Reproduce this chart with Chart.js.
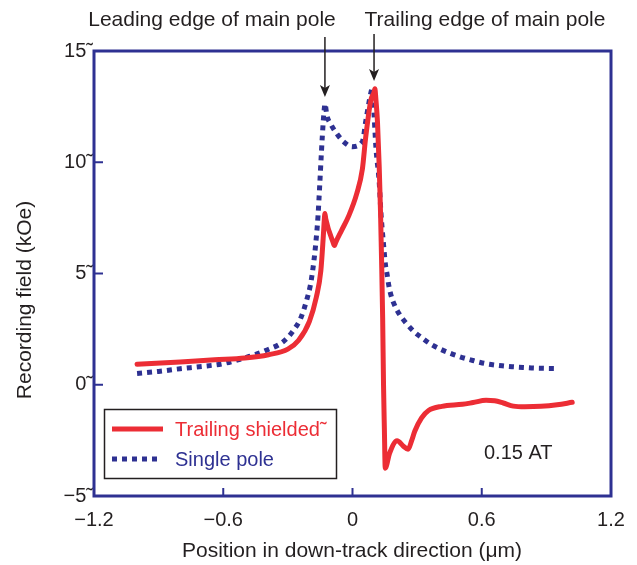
<!DOCTYPE html>
<html><head><meta charset="utf-8">
<script src="https://cdn.jsdelivr.net/npm/chart.js@4"></script>
<style>html,body{margin:0;padding:0;background:#fff}</style>
</head><body>
<canvas id="c" width="637" height="565"></canvas>
<script>
const seriesNames = ['Trailing shielded\u02DC', 'Single pole'];
const xRed = [-1.0,-0.8,-0.64,-0.5,-0.39,-0.3,-0.25,-0.2,-0.168,-0.147,-0.136,-0.131,-0.128,-0.124,-0.09,-0.084,-0.078,-0.05,-0.017,0.02,0.046,0.061,0.085,0.1,0.104,0.108,0.116,0.124,0.13,0.135,0.14,0.144,0.148,0.152,0.172,0.207,0.235,0.258,0.275,0.289,0.32,0.353,0.415,0.51,0.56,0.62,0.66,0.70,0.747,0.8,0.875,0.95,1.02];
const yRed = [0.92,1.02,1.12,1.2,1.35,1.6,2.0,2.85,3.93,5.12,6.6,7.4,7.7,7.45,6.4,6.26,6.4,6.95,7.6,8.6,9.7,11.1,12.78,13.15,13.3,12.9,11.8,9.8,7.8,5.6,3.0,0.0,-2.0,-3.75,-3.08,-2.52,-2.75,-2.9,-2.5,-2.09,-1.5,-1.16,-0.97,-0.88,-0.8,-0.7,-0.72,-0.82,-0.96,-0.99,-0.97,-0.9,-0.79];
const xBlue = [-1.0,-0.9,-0.8,-0.7,-0.6,-0.48,-0.4,-0.32,-0.27,-0.24,-0.21,-0.195,-0.184,-0.172,-0.16,-0.152,-0.144,-0.136,-0.131,-0.128,-0.124,-0.12,-0.1,-0.07,-0.042,-0.001,0.046,0.062,0.081,0.087,0.09,0.094,0.1,0.109,0.124,0.132,0.145,0.153,0.161,0.168,0.179,0.196,0.219,0.249,0.284,0.323,0.362,0.408,0.455,0.498,0.548,0.594,0.644,0.695,0.741,0.792,0.842,0.95];
const yBlue = [0.51,0.6,0.72,0.82,0.95,1.27,1.55,1.95,2.5,3.0,3.9,4.5,5.2,6.2,7.6,9.0,10.5,11.8,12.4,12.63,12.45,12.16,11.7,11.25,10.93,10.7,10.93,11.87,12.93,13.2,13.3,13.1,12.16,10.63,9.1,7.73,6.2,5.39,4.94,4.49,4.01,3.56,3.15,2.77,2.4,2.1,1.83,1.6,1.41,1.26,1.12,1.0,0.91,0.85,0.81,0.78,0.75,0.73];
const xTickValues = [-1.2,-0.6,0,0.6,1.2];
const xTickLabels = ['\u22121.2','\u22120.6','0','0.6','1.2'];
const yTickValues = [-5,0,5,10,15];
const yTickLabels = ['\u22125\u02DC','0\u02DC','5\u02DC','10\u02DC','15\u02DC'];
const xTitle = 'Position in down-track direction (\u03BCm)';
const yTitle = 'Recording field (kOe)';
const noteLabels = ['Leading edge of main pole','Trailing edge of main pole'];
const notePeakX = [-0.128, 0.1];
const condition = '0.15 AT';

const RED = '#ec2d35', NAVY = '#2e3192', INK = '#231f20';
const FONT = '"Liberation Sans", Arial, Helvetica, sans-serif';

const deco = {
  id: 'deco',
  afterDatasetsDraw(chart) {
    const {ctx, chartArea: a, scales: {x, y}} = chart;
    ctx.save();
    // inner tick marks
    ctx.strokeStyle = NAVY; ctx.lineWidth = 2;
    yTickValues.slice(1, -1).forEach(v => {
      const py = y.getPixelForValue(v);
      ctx.beginPath(); ctx.moveTo(a.left, py); ctx.lineTo(a.left + 9, py); ctx.stroke();
    });
    xTickValues.slice(1, -1).forEach(v => {
      const px = x.getPixelForValue(v);
      ctx.beginPath(); ctx.moveTo(px, a.bottom); ctx.lineTo(px, a.bottom - 8); ctx.stroke();
    });
    // frame
    ctx.lineWidth = 3;
    ctx.strokeRect(a.left, a.top, a.right - a.left, a.bottom - a.top);

    // legend
    ctx.strokeStyle = INK; ctx.lineWidth = 1.5;
    ctx.strokeRect(104.5, 409.5, 232, 69);
    ctx.lineWidth = 5;
    ctx.strokeStyle = RED; ctx.setLineDash([]);
    ctx.beginPath(); ctx.moveTo(112, 429); ctx.lineTo(163, 429); ctx.stroke();
    ctx.strokeStyle = NAVY; ctx.setLineDash([5, 5]);
    ctx.beginPath(); ctx.moveTo(112, 459); ctx.lineTo(162, 459); ctx.stroke();
    ctx.setLineDash([]);
    ctx.font = '20px ' + FONT; ctx.textBaseline = 'middle'; ctx.textAlign = 'left';
    ctx.fillStyle = RED; ctx.fillText(seriesNames[0], 175, 430);
    ctx.fillStyle = NAVY; ctx.fillText(seriesNames[1], 175, 460);

    // condition note
    ctx.fillStyle = INK;
    ctx.fillText(condition, 484, 453);

    // header notes + arrows
    ctx.font = '21px ' + FONT;
    ctx.textAlign = 'center';
    ctx.fillText(noteLabels[0], 212, 20);
    ctx.fillText(noteLabels[1], 485, 20);
    const arrow = (px, y0, y1) => {
      ctx.strokeStyle = INK; ctx.fillStyle = INK; ctx.lineWidth = 1.5;
      ctx.beginPath(); ctx.moveTo(px, y0); ctx.lineTo(px, y1 - 8); ctx.stroke();
      ctx.beginPath(); ctx.moveTo(px, y1); ctx.lineTo(px - 5, y1 - 12); ctx.lineTo(px, y1 - 9); ctx.lineTo(px + 5, y1 - 12); ctx.closePath(); ctx.fill();
    };
    arrow(x.getPixelForValue(notePeakX[0]), 37, 97);
    arrow(x.getPixelForValue(notePeakX[1]), 34, 81);

    // axis titles
    ctx.fillStyle = INK; ctx.textAlign = 'center'; ctx.textBaseline = 'middle';
    ctx.fillText(xTitle, 352, 551);
    ctx.save(); ctx.translate(25, 300); ctx.rotate(-Math.PI / 2);
    ctx.fillText(yTitle, 0, 0); ctx.restore();
    ctx.restore();
  }
};

new Chart(document.getElementById('c'), {
  type: 'line',
  data: {
    datasets: [
      { label: seriesNames[0], data: xRed.map((v, i) => ({x: v, y: yRed[i]})),
        borderColor: RED, borderWidth: 5, pointRadius: 0, fill: false,
        cubicInterpolationMode: 'monotone', borderJoinStyle: 'round', borderCapStyle: 'round' },
      { label: seriesNames[1], data: xBlue.map((v, i) => ({x: v, y: yBlue[i]})),
        borderColor: NAVY, borderWidth: 5, borderDash: [5, 5], pointRadius: 0, fill: false,
        cubicInterpolationMode: 'monotone', borderCapStyle: 'butt' }
    ]
  },
  options: {
    responsive: false, animation: false, devicePixelRatio: 1,
    layout: { padding: { left: 0, right: 26, top: 51, bottom: 0 } },
    plugins: { legend: { display: false }, tooltip: { enabled: false } },
    scales: {
      x: {
        type: 'linear', min: -1.2, max: 1.2,
        afterBuildTicks: s => { s.ticks = xTickValues.map(v => ({value: v})); },
        afterFit: s => { s.height = 69; },
        grid: { display: false, drawTicks: false }, border: { display: false },
        ticks: { color: INK, font: { size: 20, family: FONT }, padding: 12, maxRotation: 0,
          callback: (v) => xTickLabels[xTickValues.indexOf(v)] }
      },
      y: {
        type: 'linear', min: -5, max: 15,
        afterBuildTicks: s => { s.ticks = yTickValues.map(v => ({value: v})); },
        afterFit: s => { s.width = 94; },
        grid: { display: false, drawTicks: false }, border: { display: false },
        ticks: { color: INK, font: { size: 20, family: FONT }, padding: 1,
          callback: (v) => yTickLabels[yTickValues.indexOf(v)] }
      }
    }
  },
  plugins: [deco]
});
</script>
</body></html>
